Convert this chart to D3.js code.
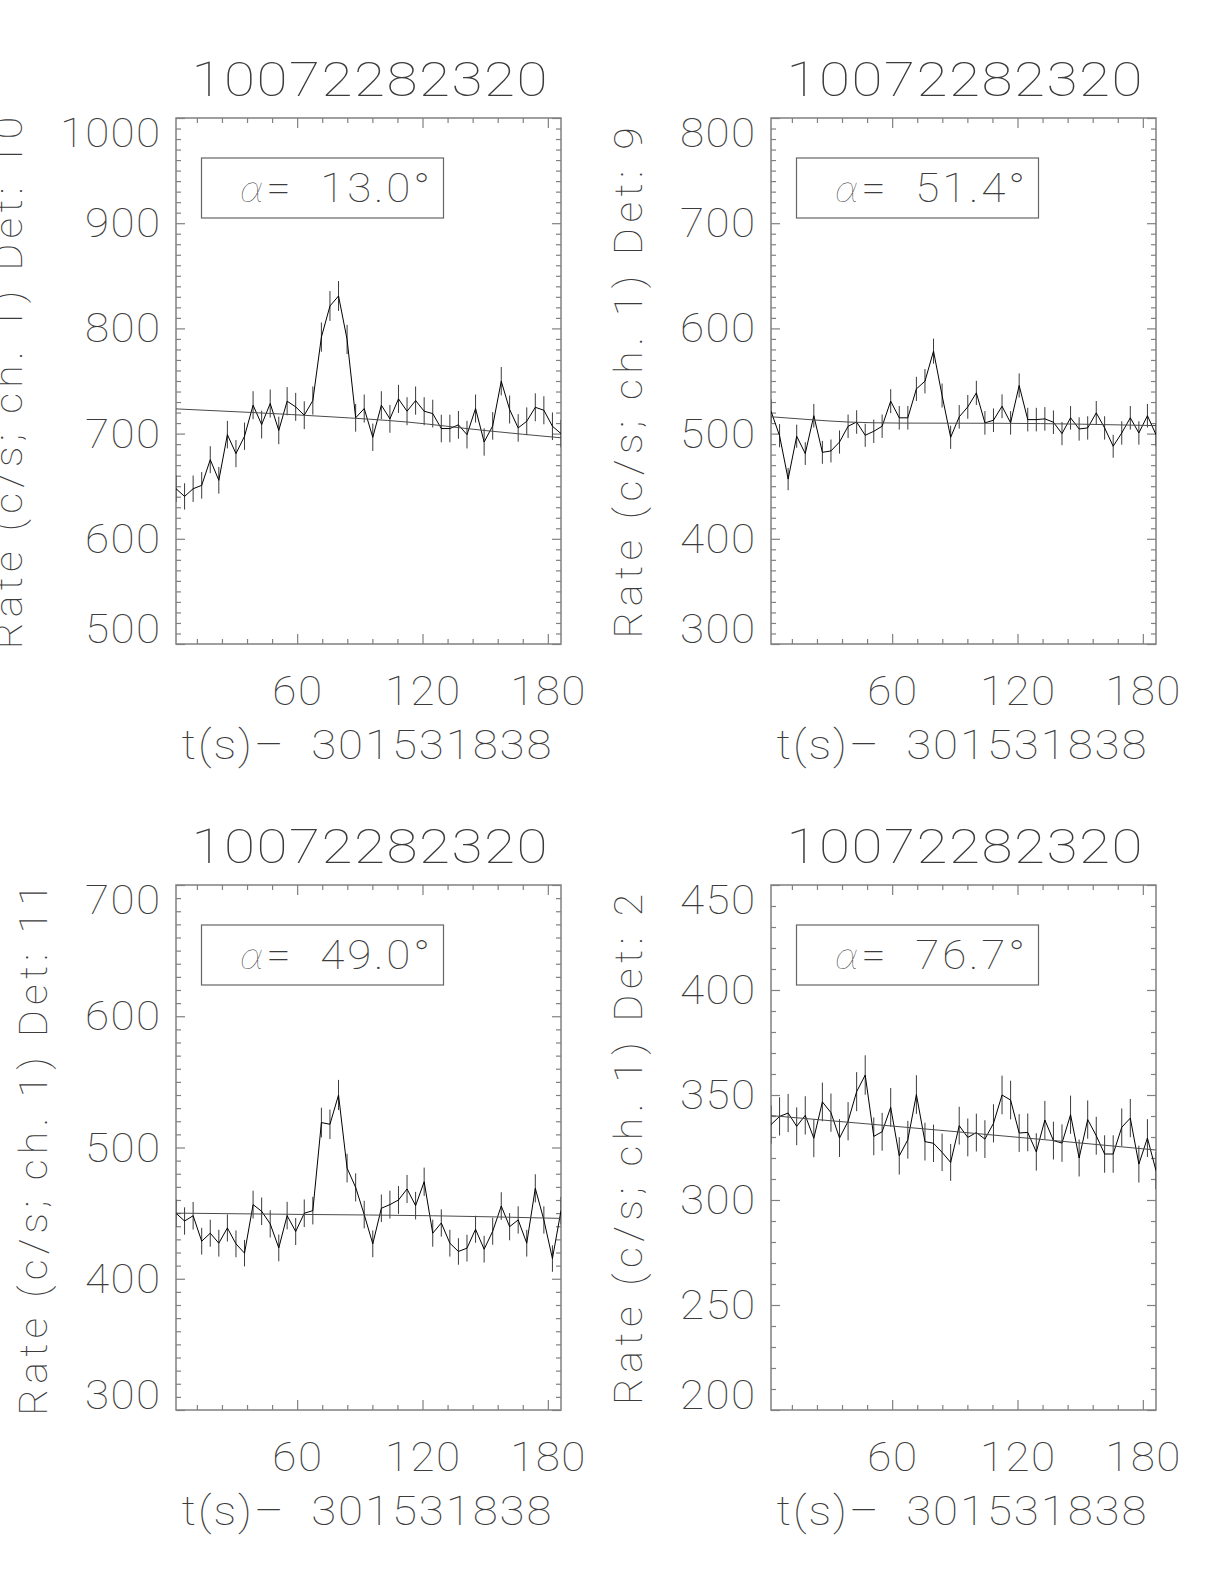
<!DOCTYPE html>
<html><head><meta charset="utf-8">
<script src="https://cdn.jsdelivr.net/npm/d3@7"></script>
<style>
body{margin:0;background:#fff}
text{font-family:Roboto,"Noto Sans",sans-serif;font-weight:100;fill:#3c3c3c;white-space:pre}
tspan.alpha{font-family:Lato,"Liberation Serif",serif;font-style:italic;font-weight:100;fill:#222}
</style></head>
<body>
<script>
// ---------------- DATA ----------------
// bin centres, seconds after 301531838
const times = [2.0,6.1,10.2,14.3,18.4,22.5,26.6,30.7,34.8,38.9,43.0,47.1,51.2,55.2,59.3,63.4,67.5,71.6,75.7,79.8,
  83.9,88.0,92.1,96.2,100.3,104.4,108.5,112.6,116.7,120.8,124.9,129.0,133.1,137.2,141.3,145.4,149.5,153.6,157.7,161.7,
  165.8,169.9,174.0,178.1,182.2,186.3];

const titles = ["10072282320","10072282320","10072282320","10072282320"];
const detLabels = ["Rate (c/s; ch. 1) Det: 10","Rate (c/s; ch. 1) Det: 9","Rate (c/s; ch. 1) Det: 11","Rate (c/s; ch. 1) Det: 2"];
const alphaLabels = ["13.0°","51.4°","49.0°","76.7°"];
const xTitle = "t(s)\u2013  301531838";
const xMajorTicks = [60,120,180];
const xMinorTicks = [12,24,36,48,72,84,96,108,132,144,156,168];
const yDomains = [[500,1000],[300,800],[300,700],[200,450]];
const yMajorStep = [100,100,100,50];
const yMinorStep = [10,10,10,10];

const rate1 = [647.6,640.3,647.6,650.8,675.2,655.6,699,681,697.5,727,708.6,728.6,703,730.8,725.4,717.5,731.4,791.7,821.3,830.8,
  789.5,715,723.8,696.5,727,714,733,721.3,731.4,721.3,719,704.8,704.8,708.3,699,723.8,692,707.3,749.8,722.9,705.4,711.7,725,722.2,707,700];
const err1 = [12.6,12.5,12.6,12.6,12.8,12.7,13.1,12.9,13.0,13.3,13.2,13.3,13.1,13.4,13.3,13.2,13.4,13.9,14.2,14.2,
  13.9,13.2,13.3,13.0,13.3,13.2,13.4,13.3,13.4,13.3,13.2,13.1,13.1,13.2,13.1,13.3,13.0,13.1,13.5,13.3,13.1,13.2,13.3,13.3,13.1,13.1];

const rate2 = [521.3,498,456.8,497.5,481,517,482.2,483.5,492,507,511,498.4,502.2,507,530.8,515,515,542.5,549.8,578.4,
  536.2,496.5,515.9,525.4,538.7,510.2,512.7,526,510.2,545.7,513.3,513.3,514,510.8,500,515,504.4,505.4,519.7,505.4,488,500.6,515,500.6,517,499];
const err2 = [11.3,11.0,10.6,11.0,10.8,11.2,10.9,10.9,11.0,11.1,11.2,11.0,11.1,11.1,11.4,11.2,11.2,11.5,11.6,11.9,
  11.4,11.0,11.2,11.3,11.5,11.2,11.2,11.3,11.2,11.5,11.2,11.2,11.2,11.2,11.0,11.2,11.1,11.1,11.3,11.1,10.9,11.1,11.2,11.1,11.2,11.0];

const rate3 = [449.9,444,448,428.6,434.7,427.1,438.7,426.6,419.5,456.5,451.4,441.8,423.5,448.1,436,449.9,451.9,519,517.7,540,
  484.3,469.6,448.9,426.6,453.7,456.5,460,468.4,455.7,473.9,434.7,442.5,427.1,420.8,423.3,437.7,422.5,436.2,455.4,439.7,444.8,427.1,468.9,444.8,415.4,451.9];
const err3 = [10.5,10.4,10.5,10.2,10.3,10.2,10.3,10.2,10.1,10.6,10.5,10.4,10.2,10.5,10.3,10.5,10.5,11.3,11.2,11.5,
  10.9,10.7,10.5,10.2,10.5,10.6,10.6,10.7,10.5,10.8,10.3,10.4,10.2,10.1,10.2,10.3,10.2,10.3,10.5,10.4,10.4,10.2,10.7,10.4,10.1,10.5];

const rate4 = [335.9,339.8,341.4,335.1,340.3,329.4,346.7,341.6,329.5,337.5,351.6,359.5,330.3,332.5,344.1,321,328.7,350.2,327.8,327,
  322.7,317.9,335.4,329.8,332.1,329,336.5,350,347.6,331.9,332.2,322.9,338.1,328.3,327.1,340.6,320,338.3,330.6,321.9,321.9,334.6,339,317.1,329.5,314];
const err4 = [9.1,9.1,9.1,9.0,9.1,9.0,9.2,9.1,9.0,9.1,9.3,9.4,9.0,9.0,9.2,8.9,9.0,9.2,9.0,8.9,
  8.9,8.8,9.0,9.0,9.0,9.0,9.1,9.2,9.2,9.0,9.0,8.9,9.1,9.0,8.9,9.1,8.8,9.1,9.0,8.9,8.9,9.0,9.1,8.8,9.0,8.8];

// background fits (knot times / values)
const bgT1 = [2.0,38.9,75.7,112.6,149.5,186.3];       const bg1 = [723.5,720,716,711,703,696];
const bgT2 = [2.0,22.5,38.9,63.4,112.6,149.5,186.3];  const bg2 = [516,513,511,510,509.8,509,507.6];
const bgT3 = [2.0,63.4,124.9,186.3];                  const bg3 = [450,449,448,446];
const bgT4 = [2.0,92.1,186.3];                        const bg4 = [340.2,332.4,323.8];

const rates = [rate1,rate2,rate3,rate4];
const errs = [err1,err2,err3,err4];
const bgTs = [bgT1,bgT2,bgT3,bgT4];
const bgs = [bg1,bg2,bg3,bg4];

// ---------------- LAYOUT ----------------
const boxes = [
  {left:176, top:118, w:385, h:526},
  {left:771, top:118, w:385, h:526},
  {left:176, top:885, w:385, h:525},
  {left:771, top:885, w:385, h:525}
];
const frameColor = "#808080";
const xDomain = [times[0], times[times.length-1]];

const svg = d3.select("body").append("svg").attr("width",1224).attr("height",1584);

// text helper: widened glyphs (scaleX) with a fixed overall advance length
function addText(parent, o){
  const sx = o.sx || 1.1;
  const gg = parent.append("g")
    .attr("transform",`translate(${o.x},${o.y}) rotate(${o.rotate||0}) scale(${sx},1)`);
  const t = gg.append("text").attr("x",0).attr("y",0)
    .attr("text-anchor",o.anchor||"start").attr("font-size",o.size);
  if (o.len) t.attr("textLength", o.len/sx).attr("lengthAdjust","spacing");
  if (o.str !== undefined) t.text(o.str);
  return t;
}

boxes.forEach((p,i) => {
  const x = d3.scaleLinear().domain(xDomain).range([p.left, p.left+p.w]);
  const y = d3.scaleLinear().domain(yDomains[i]).range([p.top+p.h, p.top]);
  const g = svg.append("g");

  const clipId = "clip"+i;
  svg.append("clipPath").attr("id",clipId).append("rect")
    .attr("x",p.left).attr("y",p.top).attr("width",p.w).attr("height",p.h);

  const [lo,hi] = yDomains[i];
  const yMajor = d3.range(lo, hi+0.001, yMajorStep[i]);
  const yMinor = d3.range(lo, hi+0.001, yMinorStep[i]).filter(v => !yMajor.includes(v));

  function tickGroup(axisFn, scale, tx, ty, values, size){
    g.append("g").attr("transform",`translate(${tx},${ty})`)
      .call(axisFn(scale).tickValues(values).tickSize(-size).tickFormat(""))
      .call(s => s.select(".domain").remove())
      .call(s => s.selectAll("line").attr("stroke",frameColor).attr("stroke-width",1.2));
  }
  tickGroup(d3.axisLeft, y, p.left, 0, yMinor, 5);
  tickGroup(d3.axisLeft, y, p.left, 0, yMajor, 9);
  tickGroup(d3.axisRight, y, p.left+p.w, 0, yMinor, 5);
  tickGroup(d3.axisRight, y, p.left+p.w, 0, yMajor, 9);
  tickGroup(d3.axisBottom, x, 0, p.top+p.h, xMinorTicks, 5);
  tickGroup(d3.axisBottom, x, 0, p.top+p.h, xMajorTicks, 10);
  tickGroup(d3.axisTop, x, 0, p.top, xMinorTicks, 5);
  tickGroup(d3.axisTop, x, 0, p.top, xMajorTicks, 10);

  // frame
  g.append("rect").attr("x",p.left).attr("y",p.top).attr("width",p.w).attr("height",p.h)
    .attr("fill","none").attr("stroke",frameColor).attr("stroke-width",1.5);

  // data
  const rows = times.map((t,j) => ({t, v: rates[i][j], e: errs[i][j]}));
  const dg = g.append("g").attr("clip-path",`url(#${clipId})`);
  dg.selectAll("line.err").data(rows).join("line").attr("class","err")
    .attr("x1",d=>x(d.t)).attr("x2",d=>x(d.t))
    .attr("y1",d=>y(d.v-d.e)).attr("y2",d=>y(d.v+d.e))
    .attr("stroke","#3a3a3a").attr("stroke-width",1);
  dg.append("path").datum(rows)
    .attr("d", d3.line().x(d=>x(d.t)).y(d=>y(d.v)))
    .attr("fill","none").attr("stroke","#000").attr("stroke-width",1);
  const bgRows = bgTs[i].map((t,j) => ({t, v: bgs[i][j]}));
  dg.append("path").datum(bgRows)
    .attr("d", d3.line().curve(d3.curveMonotoneX).x(d=>x(d.t)).y(d=>y(d.v)))
    .attr("fill","none").attr("stroke","#4a4a4a").attr("stroke-width",1);

  // y tick labels (kept inside the box vertically)
  const labW = 25;
  yMajor.forEach(v => {
    const s = String(v);
    const cy = Math.max(p.top+15, Math.min(p.top+p.h-15, y(v)));
    addText(g, {x:p.left-16, y:cy+14, anchor:"end", size:40, str:s, len:s.length*labW, sx:1.1});
  });
  const maxAdv = d3.max(yMajor, v => String(v).length*labW);

  // x tick labels
  xMajorTicks.forEach(v => {
    const s = String(v);
    addText(g, {x:x(v), y:p.top+p.h+61, anchor:"middle", size:40, str:s, len:s.length*25, sx:1.1});
  });

  // title
  addText(g, {x:p.left+p.w/2+1, y:p.top-22, anchor:"middle", size:48, str:titles[i], len:356, sx:1.18});

  // x title
  addText(g, {x:p.left+p.w/2-2, y:p.top+p.h+115, anchor:"middle", size:40, str:xTitle, len:370, sx:1.14});

  // y title
  const bx = p.left - 16 - maxAdv - 38;
  addText(g, {x:bx, y:p.top+p.h/2+2, rotate:-90, anchor:"middle", size:38,
              str:detLabels[i], len:detLabels[i].length*21.3, sx:1.08});

  // legend box
  g.append("rect").attr("x",p.left+25.5).attr("y",p.top+40).attr("width",242).attr("height",60)
    .attr("fill","none").attr("stroke","#666").attr("stroke-width",1.2);
  const lt = addText(g, {x:p.left+64, y:p.top+84, anchor:"start", size:40, len:190, sx:1.1});
  lt.append("tspan").attr("class","alpha").text("\u03b1");
  lt.append("tspan").text("=  " + alphaLabels[i]);
});
</script>
</body></html>
